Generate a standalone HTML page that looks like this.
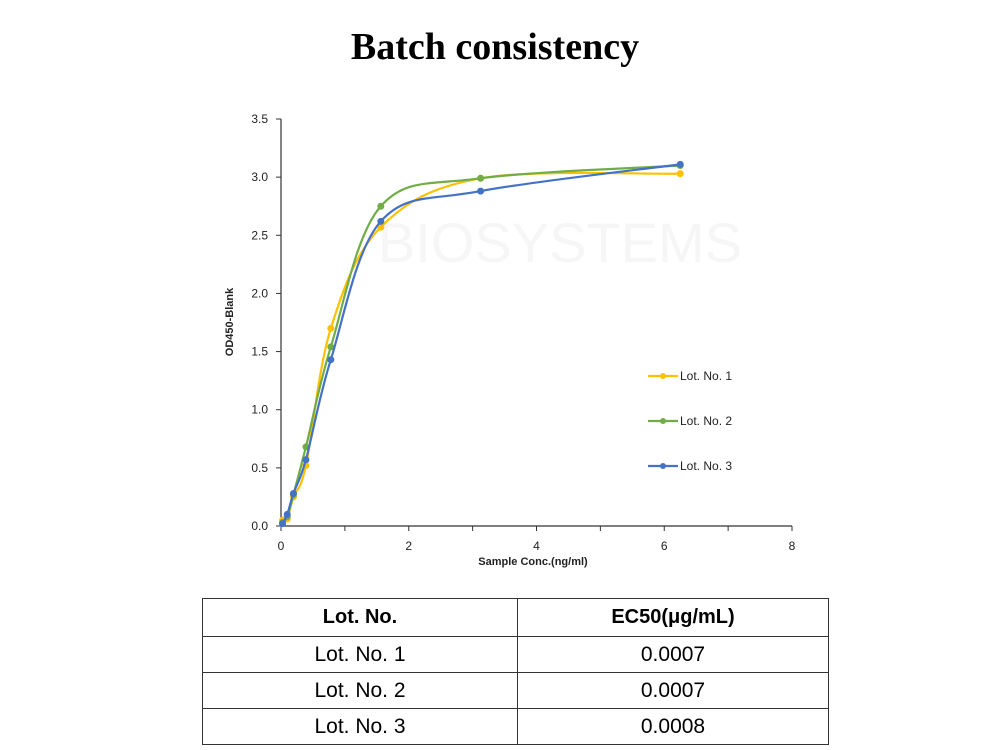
<!DOCTYPE html>
<html><head><meta charset="utf-8"><style>
body{margin:0;width:1000px;height:750px;background:#fff;position:relative;overflow:hidden;font-family:"Liberation Sans",sans-serif}
#title{position:absolute;top:25px;left:0;width:990px;text-align:center;font-family:"Liberation Serif",serif;font-weight:bold;font-size:38px;color:#000}
table{position:absolute;left:202px;top:598px;width:627px;border-collapse:collapse;font-size:21px}
td{border:1px solid #333;text-align:center;height:35px;padding:0}
th{border:1px solid #333;height:35px;font-size:20px}
</style></head><body>
<div id="title">Batch consistency</div>
<svg id="chart" width="1000" height="590" style="position:absolute;left:0;top:0"></svg>
<table>
<tr><th style="width:312px">Lot. No.</th><th>EC50(μg/mL)</th></tr>
<tr><td>Lot. No. 1</td><td>0.0007</td></tr>
<tr><td>Lot. No. 2</td><td>0.0007</td></tr>
<tr><td>Lot. No. 3</td><td>0.0008</td></tr>
</table>
<script>
const xVals=[0.024,0.098,0.195,0.39,0.78,1.5625,3.125,6.25];
const lot1=[0.05,0.06,0.25,0.52,1.70,2.57,2.99,3.03];
const lot2=[0.03,0.08,0.27,0.68,1.54,2.75,2.99,3.10];
const lot3=[0.02,0.10,0.28,0.57,1.43,2.62,2.88,3.11];
const xTicks=[0,2,4,6,8];
const yTicks=[0,0.5,1.0,1.5,2.0,2.5,3.0,3.5];
const seriesNames=["Lot. No. 1","Lot. No. 2","Lot. No. 3"];
const colors=["#FFC000","#70AD47","#4472C4"];
const NS="http://www.w3.org/2000/svg";
const svg=document.getElementById('chart');
const X0=281,X1=792,Y0=526,Y1=119;
const sx=v=>X0+(v/8)*(X1-X0);
const sy=v=>Y0-(v/3.5)*(Y0-Y1);
function mk(t,a,p){const e=document.createElementNS(NS,t);for(const k in a)e.setAttribute(k,a[k]);(p||svg).appendChild(e);return e;}
const wm=mk('text',{x:560,y:262,'font-size':56,fill:'#f6f6f6','text-anchor':'middle','font-family':'Liberation Sans'});


wm.textContent='BIOSYSTEMS';
const ax=mk('line',{x1:X0,y1:Y0,x2:X1,y2:Y0,stroke:'#333','stroke-width':1.2});


const ay=mk('line',{x1:X0,y1:Y0,x2:X0,y2:Y1,stroke:'#333','stroke-width':1.2});


for(let v=0;v<=8;v+=1){mk('line',{x1:sx(v),y1:Y0,x2:sx(v),y2:Y0+5,stroke:'#333'});}
xTicks.forEach(v=>{const t=mk('text',{x:sx(v),y:Y0+24,'font-size':12,'text-anchor':'middle',fill:'#222'});


t.textContent=v;});
yTicks.forEach(v=>{mk('line',{x1:X0-5,y1:sy(v),x2:X0,y2:sy(v),stroke:'#333'});
const t=mk('text',{x:X0-13,y:sy(v)+4,'font-size':12,'text-anchor':'end',fill:'#222'});


t.textContent=v.toFixed(1);});
const xt=mk('text',{x:533,y:565,'font-size':11,'font-weight':'bold','text-anchor':'middle',fill:'#222'});


xt.textContent='Sample Conc.(ng/ml)';
const yt=mk('text',{x:0,y:0,'font-size':11,'font-weight':'bold','text-anchor':'middle',fill:'#222',transform:'translate(233,322) rotate(-90)'});


yt.textContent='OD450-Blank';
function smooth(pts){let d=`M${pts[0][0]},${pts[0][1]}`;
for(let i=0;i<pts.length-1;i++){const p0=pts[Math.max(0,i-1)],p1=pts[i],p2=pts[i+1],p3=pts[Math.min(pts.length-1,i+2)];
const c1=[p1[0]+(p2[0]-p0[0])/6,p1[1]+(p2[1]-p0[1])/6],c2=[p2[0]-(p3[0]-p1[0])/6,p2[1]-(p3[1]-p1[1])/6];
d+=` C${c1[0]},${c1[1]} ${c2[0]},${c2[1]} ${p2[0]},${p2[1]}`;}return d;}
[lot1,lot2,lot3].forEach((s,i)=>{const pts=xVals.map((x,j)=>[sx(x),sy(s[j])]);
const p=mk('path',{d:smooth(pts),fill:'none',stroke:colors[i],'stroke-width':2.2});


pts.forEach(q=>{const c=mk('circle',{cx:q[0],cy:q[1],r:3.5,fill:colors[i]});

});
const ly=376+i*45;
const g=mk('g',{});


mk('line',{x1:648,y1:ly,x2:678,y2:ly,stroke:colors[i],'stroke-width':2.2},g);
mk('circle',{cx:663,cy:ly,r:3,fill:colors[i]},g);
const t=mk('text',{x:680,y:ly+4,'font-size':12,fill:'#222'},g);t.textContent=seriesNames[i];});
</script>
</body></html>
